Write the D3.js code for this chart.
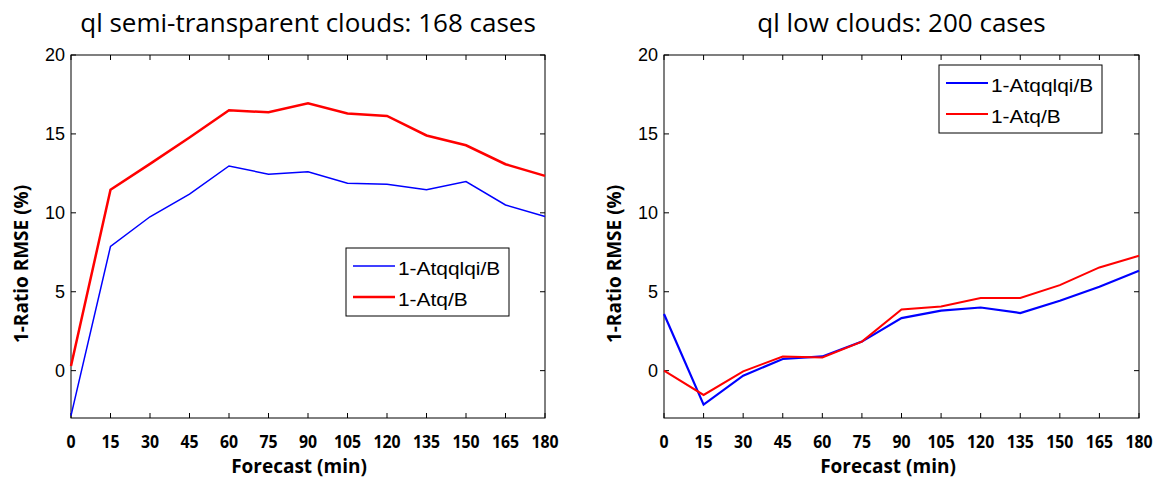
<!DOCTYPE html>
<html>
<head>
<meta charset="utf-8">
<script src="https://cdn.jsdelivr.net/npm/d3@7"></script>
<style>
  body { margin: 0; background: #fff; }
  svg text { fill: #000; }
</style>
</head>
<body>
<svg id="chart" width="1158" height="483"></svg>
<script>
const forecast = [0, 15, 30, 45, 60, 75, 90, 105, 120, 135, 150, 165, 180];
const yTicks = [0, 5, 10, 15, 20];

// semi-transparent clouds
const semiBlue = [-2.85, 7.87, 9.75, 11.18, 12.97, 12.45, 12.6, 11.88, 11.81, 11.46, 11.98, 10.5, 9.77];
const semiRed = [0.3, 11.46, 13.1, 14.77, 16.5, 16.37, 16.94, 16.3, 16.14, 14.9, 14.28, 13.08, 12.34];

// low clouds
const lowBlue = [3.59, -2.15, -0.32, 0.74, 0.9, 1.84, 3.33, 3.8, 4.0, 3.65, 4.43, 5.32, 6.33];
const lowRed = [0.0, -1.54, -0.04, 0.89, 0.84, 1.84, 3.88, 4.07, 4.6, 4.6, 5.42, 6.54, 7.28];

const seriesNames = ["1-Atqqlqi/B", "1-Atq/B"];

const svg = d3.select("#chart");

function drawPanel(opts) {
  const { left, right, top, bottom, title, blue, red, blueW, redW, legend, xLabelX } = opts;

  const x = d3.scaleLinear().domain([0, 180]).range([left, right]);
  const y = d3.scaleLinear().domain([-3, 20]).range([bottom, top]);

  const g = svg.append("g");

  // title
  g.append("text")
    .attr("x", (left + right) / 2)
    .attr("y", 32)
    .attr("text-anchor", "middle")
    .attr("font-family", "Open Sans, sans-serif")
    .attr("font-size", "26px")
    .text(title);

  // frame
  g.append("rect")
    .attr("x", left).attr("y", top)
    .attr("width", right - left).attr("height", bottom - top)
    .attr("fill", "none").attr("stroke", "#000").attr("stroke-width", 1);

  // ticks inward (matlab style)
  const tl = 5;
  forecast.forEach(v => {
    g.append("line").attr("x1", x(v)).attr("x2", x(v)).attr("y1", bottom).attr("y2", bottom - tl).attr("stroke", "#000");
    g.append("line").attr("x1", x(v)).attr("x2", x(v)).attr("y1", top).attr("y2", top + tl).attr("stroke", "#000");
    g.append("text")
      .attr("x", x(v)).attr("y", bottom + 30)
      .attr("text-anchor", "middle")
      .attr("font-family", "Open Sans, sans-serif")
      .attr("font-size", "18px")
      .attr("font-weight", "bold")
      .attr("transform", `translate(${x(v)},0) scale(0.88,1) translate(${-x(v)},0)`)
      .text(v);
  });
  yTicks.forEach(v => {
    g.append("line").attr("x1", left).attr("x2", left + tl).attr("y1", y(v)).attr("y2", y(v)).attr("stroke", "#000");
    g.append("line").attr("x1", right).attr("x2", right - tl).attr("y1", y(v)).attr("y2", y(v)).attr("stroke", "#000");
    g.append("text")
      .attr("x", left - 6).attr("y", y(v) + 6)
      .attr("text-anchor", "end")
      .attr("font-family", "Liberation Sans, Arial, sans-serif")
      .attr("font-size", "18px")
      .text(v);
  });

  // axis labels
  g.append("text")
    .attr("x", xLabelX).attr("y", bottom + 55)
    .attr("text-anchor", "middle")
    .attr("font-family", "Open Sans, sans-serif")
    .attr("font-size", "19px")
    .attr("font-weight", "bold")
    .text("Forecast (min)");

  g.append("text")
    .attr("transform", `translate(${left - 43},264) rotate(-90)`)
    .attr("text-anchor", "middle")
    .attr("font-family", "Open Sans, sans-serif")
    .attr("font-size", "19px")
    .attr("font-weight", "bold")
    .text("1-Ratio RMSE (%)");

  const line = d3.line().x((d, i) => x(forecast[i])).y(d => y(d));

  g.append("path").datum(blue).attr("d", line)
    .attr("fill", "none").attr("stroke", "#0000ff").attr("stroke-width", blueW);
  g.append("path").datum(red).attr("d", line)
    .attr("fill", "none").attr("stroke", "#ff0000").attr("stroke-width", redW);

  // legend
  const lg = g.append("g");
  lg.append("rect")
    .attr("x", legend.x).attr("y", legend.y)
    .attr("width", legend.w).attr("height", legend.h)
    .attr("fill", "#fff").attr("stroke", "#000").attr("stroke-width", 1);
  const rows = [
    { name: seriesNames[0], color: "#0000ff", w: blueW },
    { name: seriesNames[1], color: "#ff0000", w: redW }
  ];
  rows.forEach((r, i) => {
    const ry = legend.y + 18 + i * 31;
    lg.append("line")
      .attr("x1", legend.x + 7).attr("x2", legend.x + 49)
      .attr("y1", ry).attr("y2", ry)
      .attr("stroke", r.color).attr("stroke-width", r.w);
    const tx = legend.x + 52;
    lg.append("text")
      .attr("x", tx).attr("y", ry + 9)
      .attr("font-family", "Liberation Sans, Arial, sans-serif")
      .attr("font-size", "19px")
      .attr("transform", `translate(${tx},0) scale(1.1,1) translate(${-tx},0)`)
      .text(r.name);
  });
}

drawPanel({
  left: 71, right: 545, top: 55, bottom: 418,
  title: "ql semi-transparent clouds: 168 cases",
  blue: semiBlue, red: semiRed, blueW: 1.5, redW: 2.5,
  legend: { x: 346, y: 248, w: 163, h: 68 },
  xLabelX: 299
});

drawPanel({
  left: 664, right: 1139, top: 55, bottom: 418,
  title: "ql low clouds: 200 cases",
  blue: lowBlue, red: lowRed, blueW: 2.2, redW: 2,
  legend: { x: 939, y: 65, w: 163, h: 68 },
  xLabelX: 888
});
</script>
</body>
</html>
